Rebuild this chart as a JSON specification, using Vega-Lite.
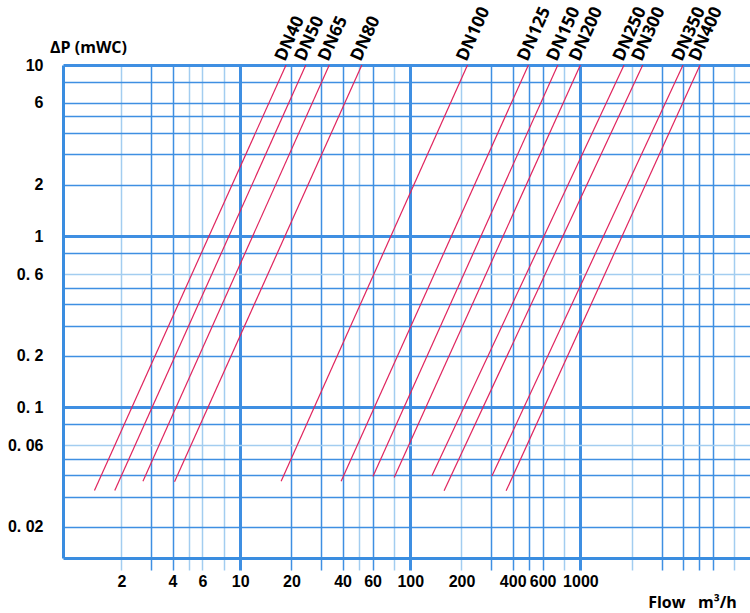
{
  "$schema": "https://vega.github.io/schema/vega-lite/v6.json",
  "autosize": {"type": "none"},
  "padding": {"left": 63, "top": 65, "right": 0, "bottom": 55},
  "width": 687,
  "height": 493,
  "background": "white",
  "config": {"view": {"stroke": null}},
  "data": {
    "values": [
      {"dn": "DN40", "flow": 1.39, "dp": 0.0326}, {"dn": "DN40", "flow": 18.6, "dp": 10},
      {"dn": "DN50", "flow": 1.83, "dp": 0.0326}, {"dn": "DN50", "flow": 24.3, "dp": 10},
      {"dn": "DN65", "flow": 2.68, "dp": 0.0369}, {"dn": "DN65", "flow": 33.4, "dp": 10},
      {"dn": "DN80", "flow": 4.11, "dp": 0.0366}, {"dn": "DN80", "flow": 51.9, "dp": 10},
      {"dn": "DN100", "flow": 17.4, "dp": 0.0369}, {"dn": "DN100", "flow": 217, "dp": 10},
      {"dn": "DN125", "flow": 39.2, "dp": 0.0369}, {"dn": "DN125", "flow": 495, "dp": 10},
      {"dn": "DN150", "flow": 60.3, "dp": 0.0393}, {"dn": "DN150", "flow": 737, "dp": 10},
      {"dn": "DN200", "flow": 80.4, "dp": 0.0388}, {"dn": "DN200", "flow": 1000, "dp": 10},
      {"dn": "DN250", "flow": 134, "dp": 0.0397}, {"dn": "DN250", "flow": 1806, "dp": 10},
      {"dn": "DN300", "flow": 158, "dp": 0.0324}, {"dn": "DN300", "flow": 2326, "dp": 10},
      {"dn": "DN350", "flow": 302, "dp": 0.0395}, {"dn": "DN350", "flow": 4014, "dp": 10},
      {"dn": "DN400", "flow": 366, "dp": 0.0324}, {"dn": "DN400", "flow": 5052, "dp": 10}
    ]
  },
  "layer": [
    {
      "mark": {"type": "line", "color": "#e0245e", "strokeWidth": 1.2, "clip": true},
      "encoding": {
        "x": {
          "field": "flow",
          "type": "quantitative",
          "scale": {"type": "log", "domain": [0.908, 9938], "nice": false, "zero": false},
          "axis": {
            "values": [2, 3, 4, 5, 6, 8, 10, 20, 30, 40, 50, 60, 80, 100, 200, 300, 400, 500, 600, 800, 1000, 2000, 3000, 4000, 5000, 6000, 8000],
            "grid": true,
            "gridOpacity": 1,
            "gridColor": {"condition": {"test": "indexof([2,5,6,8,50,80,200,800,2000,8000], datum.value) >= 0", "value": "#a3cdf0"}, "value": "#3f8fe2"},
            "gridWidth": {"condition": {"test": "indexof([10,100,1000], datum.value) >= 0", "value": 3}, "value": 1.5},
            "ticks": true,
            "tickSize": 12,
            "tickColor": {"condition": {"test": "indexof([2,5,6,8,50,80,200,800,2000,8000], datum.value) >= 0", "value": "#a3cdf0"}, "value": "#3f8fe2"},
            "tickWidth": {"condition": {"test": "indexof([10,100,1000], datum.value) >= 0", "value": 3}, "value": 1.5},
            "domain": true,
            "domainColor": "#3a8de0",
            "domainWidth": 3,
            "labelExpr": "indexof([2,4,6,10,20,40,60,100,200,400,600,1000], datum.value) >= 0 ? '' + datum.value : ''",
            "labelFont": "Liberation Sans",
            "labelFontWeight": "bold",
            "labelFontSize": 16,
            "labelColor": "black",
            "labelPadding": 3,
            "labelFlush": false,
            "labelOverlap": false,
            "labelBound": false,
            "title": "Flow\u00a0\u00a0\u00a0m³/h",
            "titleFont": "Open Sans",
            "titleFontWeight": "bold",
            "titleFontSize": 16,
            "titleColor": "black",
            "titleX": 629,
            "titleY": 44,
            "titleAlign": "center",
            "titleBaseline": "middle"
          }
        },
        "y": {
          "field": "dp",
          "type": "quantitative",
          "scale": {"type": "log", "domain": [0.01312, 10], "nice": false, "zero": false},
          "axis": {
            "values": [0.02, 0.03, 0.04, 0.05, 0.06, 0.08, 0.1, 0.2, 0.3, 0.4, 0.5, 0.6, 0.8, 1, 2, 3, 4, 5, 6, 8, 10],
            "grid": true,
            "gridOpacity": 1,
            "gridColor": {"condition": {"test": "indexof([0.6,0.06], datum.value) >= 0", "value": "#a3cdf0"}, "value": "#3f8fe2"},
            "gridWidth": {"condition": {"test": "indexof([0.1,1,10], datum.value) >= 0", "value": 3}, "value": 1.5},
            "ticks": false,
            "tickSize": 0,
            "domain": true,
            "domainColor": "#3a8de0",
            "domainWidth": 3,
            "labelExpr": "indexof([0.02,0.06,0.1,0.2,0.6,1,2,6,10], datum.value) >= 0 ? replace('' + datum.value, '.', '. ') : ''",
            "labelFont": "Liberation Sans",
            "labelFontWeight": "bold",
            "labelFontSize": 16,
            "labelColor": "black",
            "labelPadding": 20,
            "labelOverlap": false,
            "labelBound": false,
            "labelFlush": false,
            "title": "ΔP (mWC)",
            "titleFont": "Open Sans",
            "titleFontWeight": "bold",
            "titleFontSize": 16,
            "titleColor": "black",
            "titleAngle": 0,
            "titleX": 25,
            "titleY": -18,
            "titleAlign": "center",
            "titleBaseline": "middle"
          }
        },
        "detail": {"field": "dn", "type": "nominal"}
      }
    },
    {
      "transform": [{"filter": "datum.dp >= 10"}],
      "mark": {"type": "text", "angle": 294, "align": "left", "baseline": "alphabetic", "dx": 2, "dy": -2, "font": "Open Sans", "fontWeight": "bold", "fontSize": 17.5, "color": "black"},
      "encoding": {
        "x": {"field": "flow", "type": "quantitative"},
        "y": {"field": "dp", "type": "quantitative"},
        "text": {"field": "dn", "type": "nominal"}
      }
    }
  ]
}
